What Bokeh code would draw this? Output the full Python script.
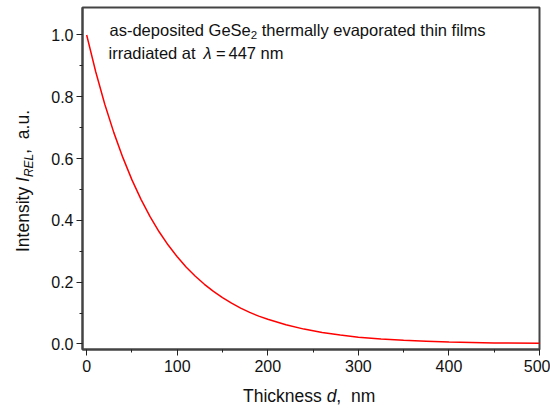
import re
import numpy as np
from bokeh.plotting import figure
from bokeh.layouts import row, column
from bokeh.models import Label, PrintfTickFormatter, FixedTicker, Range1d
from bokeh.embed import file_html
from bokeh.resources import INLINE

# ---- data ----
thickness_nm = [0, 10, 20, 30, 40, 50, 60, 70, 80, 90, 100, 110, 120, 130, 140, 150,
                160, 170, 180, 190, 200, 220, 240, 260, 280, 300, 325, 350, 375, 400, 450, 500]
intensity_rel = [1.000, 0.881, 0.776, 0.684, 0.603, 0.531, 0.468, 0.412, 0.363, 0.320, 0.282,
                 0.248, 0.219, 0.193, 0.170, 0.150, 0.132, 0.116, 0.102, 0.090, 0.080, 0.062,
                 0.048, 0.037, 0.029, 0.022, 0.016, 0.012, 0.009, 0.006, 0.003, 0.002]
x_ticks = [0, 100, 200, 300, 400, 500]
x_minor = [50, 150, 250, 350, 450]
y_ticks = [0.0, 0.2, 0.4, 0.6, 0.8, 1.0]
y_minor = [0.1, 0.3, 0.5, 0.7, 0.9]

FONT = "Liberation Sans"
TXT = "#111111"
W, H = 550, 408
YLW = 40          # strip holding the y-axis title
XLH = 28          # strip holding the x-axis title
FL, FR, FT, FB = 82, 539, 7, 349   # plot frame in page pixels
X0, X1 = -4.6, 500
Y0, Y1 = -0.018, 1.089

# ---- main plot ----
p = figure(width=W - YLW, height=H - XLH, output_backend="svg", toolbar_location=None,
           x_range=Range1d(X0, X1), y_range=Range1d(Y0, Y1),
           min_border_left=FL - YLW, min_border_right=W - FR, min_border_top=FT,
           min_border_bottom=H - XLH - FB)
p.background_fill_color = "white"
p.border_fill_color = "white"
p.grid.visible = False
p.outline_line_color = "#444444"
p.outline_line_width = 2

p.line(thickness_nm, intensity_rel, line_color="#ff0000", line_width=1.5)

for ax in (p.xaxis[0], p.yaxis[0]):
    ax.axis_line_color = "#444444"
    ax.axis_line_width = 2
    ax.major_tick_line_color = "#222222"
    ax.minor_tick_line_color = "#222222"
    ax.major_tick_in = 0
    ax.major_tick_out = 6
    ax.minor_tick_in = 0
    ax.minor_tick_out = 3
    ax.major_label_text_font = FONT
    ax.major_label_text_font_size = "16px"
    ax.major_label_text_color = TXT
    ax.axis_label = None

p.xaxis[0].ticker = FixedTicker(ticks=x_ticks, minor_ticks=x_minor)
p.yaxis[0].ticker = FixedTicker(ticks=y_ticks, minor_ticks=y_minor)
p.yaxis[0].formatter = PrintfTickFormatter(format="%.1f")
p.xaxis[0].major_label_standoff = 4
p.yaxis[0].major_label_standoff = 3


def strip(w, h, xr, yr, **borders):
    f = figure(width=w, height=h, output_backend="svg", toolbar_location=None,
               x_range=Range1d(*xr), y_range=Range1d(*yr), x_axis_type=None,
               y_axis_type=None, min_border=0, **borders)
    f.outline_line_color = None
    f.background_fill_color = "white"
    f.border_fill_color = "white"
    return f


# strips use page-pixel coordinates (y grows downward)
ylab = strip(YLW, H, (0, YLW), (H, 0))
xlab = strip(W - YLW, XLH, (FL, FR), (H, H - XLH),
             min_border_left=FL - YLW, min_border_right=W - FR)

# ---- text helpers ----
CW = {' ': 278, 'a': 556, 'c': 500, 'd': 556, 'e': 556, 'h': 556, 'i': 222, 'k': 500,
      'l': 222, 'm': 833, 'n': 556, 'r': 333, 's': 500, 't': 278, 'u': 556, 'v': 500,
      'y': 500, 'f': 278, 'p': 556, 'o': 556, '.': 278, ',': 278, '-': 333, '=': 584,
      'I': 278, 'T': 611, 'G': 778, 'S': 667, 'R': 722, 'E': 667, 'L': 556, 'λ': 520}
DROP = 0.28   # rendered baseline sits this many ems below the anchor


def tw(s, size):
    return sum(CW.get(c, 556) for c in s) / 1000.0 * size


def main_xy(sx, sy):
    return (X0 + (sx - FL) / (FR - FL) * (X1 - X0),
            Y0 + (FB - sy) / (FB - FT) * (Y1 - Y0))


def page_xy(sx, sy):
    return sx, sy


def mk(text, size, style, xy, angle=0.0):
    return Label(x=xy[0], y=xy[1], text=text, text_font=FONT, text_font_size=f"{size}px",
                 text_font_style=style, text_color=TXT, text_align="left",
                 text_baseline="alphabetic", angle=angle)


def place(fig, conv, pieces, s0, base, vertical=False):
    """pieces: (text, size, style, baseline shift, absolute start or None).
    Runs of spaces are advanced explicitly so they are not collapsed."""
    s = s0
    for text, size, style, shift, at in pieces:
        if at is not None:
            s = at
        for tok in re.split(r"( +)", text):
            if not tok:
                continue
            if not tok.isspace():
                if vertical:
                    xy = conv(base + shift - DROP * size, s)
                    fig.add_layout(mk(tok, size, style, xy, np.pi / 2))
                else:
                    xy = conv(s, base + shift - DROP * size)
                    fig.add_layout(mk(tok, size, style, xy))
            s += -tw(tok, size) if vertical else tw(tok, size)


TS = 16.5
place(p, main_xy, [("as-deposited GeSe", TS, "normal", 0, None),
                   ("2", 11.5, "normal", 4, None),
                   (" thermally evaporated thin films", TS, "normal", 0, None)], 109, 34)
place(p, main_xy, [("irradiated at", TS, "normal", 0, None),
                   ("λ", TS, "italic", 0, 203),
                   ("=", TS, "normal", 0, 215.5),
                   ("447 nm", TS, "normal", 0, 228)], 108, 57)

LS = 17.5
place(xlab, page_xy, [("Thickness ", LS, "normal", 0, None), ("d", LS, "italic", 0, None),
                      (",  nm", LS, "normal", 0, None)], 242.5, 400)

place(ylab, page_xy, [("Intensity ", LS, "normal", 0, None), ("I", LS, "italic", 0, None),
                      ("REL", 12, "italic", 5, None), (",  a.u.", LS, "normal", 0, None)],
      251.5, 27.3, vertical=True)

layout = row(ylab, column(p, xlab, spacing=0), spacing=0)
open("out.html", "w").write(file_html(layout, INLINE))
